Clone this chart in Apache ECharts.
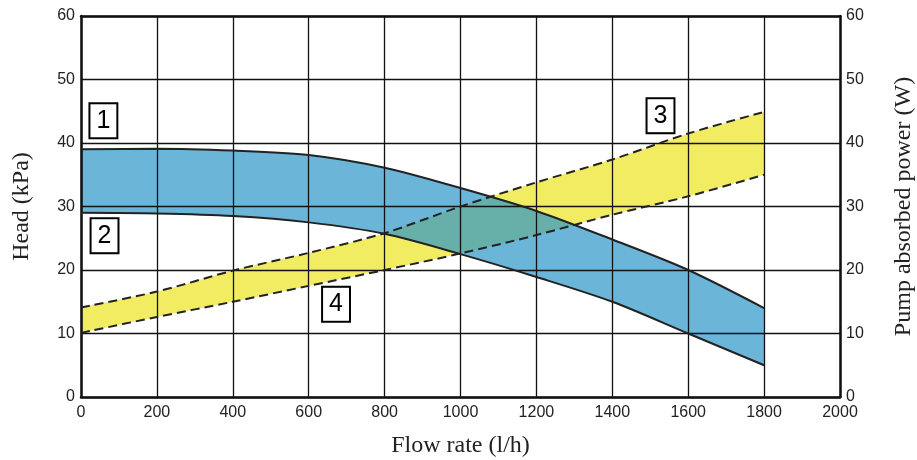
<!DOCTYPE html>
<html><head><meta charset="utf-8">
<script src="https://cdn.jsdelivr.net/npm/echarts@6/dist/echarts.min.js"></script>
<style>html,body{margin:0;padding:0;background:#fff}#c{width:917px;height:460px}</style>
</head><body><div id="c"></div>
<script>
// Data
const flow = [0, 200, 400, 600, 800, 1000, 1200, 1400, 1600, 1800];
const headMax = [39.0, 39.1, 38.8, 38.1, 36.1, 32.9, 29.3, 24.8, 20.0, 14.0];
const headMin = [29.0, 28.9, 28.5, 27.5, 25.7, 22.5, 18.9, 15.0, 10.0, 5.0];
const powerMax = [14.1, 16.6, 19.9, 22.7, 25.8, 30.0, 33.8, 37.4, 41.5, 44.9];
const powerMin = [10.1, 12.6, 15.0, 17.5, 20.0, 22.6, 25.5, 28.7, 31.6, 35.0];
const xTicks = [0, 200, 400, 600, 800, 1000, 1200, 1400, 1600, 1800, 2000];
const yTicks = [0, 10, 20, 30, 40, 50, 60];
const tagNames = ['1', '2', '3', '4'];
const tagFlow = [59, 62, 1527, 672];
const tagValue = [43.5, 25.4, 44.3, 14.6];

const pairs = (ys) => flow.map((x, i) => [String(x), ys[i]]);
const diffs = (hi, lo) => flow.map((x, i) => [String(x), +(hi[i] - lo[i]).toFixed(3)]);

const tickFont = "'Liberation Sans', Arial, sans-serif";
const titleFont = "'Liberation Serif', 'DejaVu Serif', serif";
const SM = 0.3;
const yMin = yTicks[0], yMax = yTicks[yTicks.length - 1];

const chart = echarts.init(document.getElementById('c'));
chart.setOption({
  animation: false,
  backgroundColor: '#fff',
  grid: { left: 81, right: 77, top: 16, bottom: 63, containLabel: false, outerBoundsMode: 'none' },
  xAxis: [{
    type: 'category', data: xTicks.map(String), boundaryGap: false,
    z: 5,
    name: 'Flow rate (l/h)', nameLocation: 'middle', nameGap: 37,
    nameTextStyle: { fontFamily: titleFont, fontSize: 24, color: '#222' },
    axisLine: { show: true, lineStyle: { color: '#111', width: 2.5 } },
    axisTick: { show: false },
    axisLabel: { interval: 0, fontFamily: tickFont, fontSize: 16, color: '#222', margin: 8 },
    splitLine: { show: true, interval: 0, lineStyle: { color: '#111', width: 1.3 } }
  }, {
    type: 'value', position: 'top', min: xTicks[0], max: xTicks[xTicks.length - 1], interval: 200, z: 5,
    axisLine: { show: true, onZero: false, lineStyle: { color: '#111', width: 2.5 } },
    axisTick: { show: false }, axisLabel: { show: false }, splitLine: { show: false }
  }],
  yAxis: [{
    type: 'value', min: yMin, max: yMax, interval: 10, position: 'left', z: 5,
    name: 'Head (kPa)', nameLocation: 'middle', nameGap: 47, nameRotate: 90,
    nameTextStyle: { fontFamily: titleFont, fontSize: 24, color: '#222' },
    axisLine: { show: true, lineStyle: { color: '#111', width: 2.5 } },
    axisTick: { show: false },
    axisLabel: { fontFamily: tickFont, fontSize: 16, color: '#222', margin: 6 },
    splitLine: { show: true, lineStyle: { color: '#111', width: 1.3 } }
  }, {
    type: 'value', min: yMin, max: yMax, interval: 10, position: 'right', z: 5,
    name: 'Pump absorbed power (W)', nameLocation: 'middle', nameGap: 52, nameRotate: 90,
    nameTextStyle: { fontFamily: titleFont, fontSize: 24, color: '#222' },
    axisLine: { show: true, lineStyle: { color: '#111', width: 2.5 } },
    axisTick: { show: false },
    axisLabel: { fontFamily: tickFont, fontSize: 16, color: '#222', margin: 6 },
    splitLine: { show: false }
  }],
  series: [
    // yellow band (power)
    { type: 'line', yAxisIndex: 1, stack: 'p', data: pairs(powerMin), smooth: SM, symbol: 'none',
      lineStyle: { width: 0, opacity: 0 }, z: 1, silent: true },
    { type: 'line', yAxisIndex: 1, stack: 'p', data: diffs(powerMax, powerMin), smooth: SM, symbol: 'none',
      lineStyle: { width: 0, opacity: 0 }, areaStyle: { color: '#f2ec63', opacity: 1 }, z: 1, silent: true },
    // blue band (head)
    { type: 'line', stack: 'h', data: pairs(headMin), smooth: SM, symbol: 'none',
      lineStyle: { width: 0, opacity: 0 }, z: 1, silent: true },
    { type: 'line', stack: 'h', data: diffs(headMax, headMin), smooth: SM, symbol: 'none',
      lineStyle: { width: 0, opacity: 0 }, areaStyle: { color: 'rgb(44,150,200)', opacity: 0.7 }, z: 1, silent: true },
    // boundary lines
    { type: 'line', data: pairs(headMax), smooth: SM, symbol: 'none', z: 10,
      lineStyle: { color: '#222', width: 2 } },
    { type: 'line', data: pairs(headMin), smooth: SM, symbol: 'none', z: 10,
      lineStyle: { color: '#222', width: 2 } },
    { type: 'line', yAxisIndex: 1, data: pairs(powerMax), smooth: SM, symbol: 'none', z: 10,
      lineStyle: { color: '#222', width: 2, type: [9, 5] } },
    { type: 'line', yAxisIndex: 1, data: pairs(powerMin), smooth: SM, symbol: 'none', z: 10,
      lineStyle: { color: '#222', width: 2, type: [9, 5] } },
    // tags
    { type: 'scatter', xAxisIndex: 1, symbol: 'rect', symbolSize: 1, z: 20, zlevel: 1,
      itemStyle: { color: '#fff', opacity: 1 },
      data: tagNames.map((n, i) => ({ value: [tagFlow[i], tagValue[i]], name: n })),
      label: { show: true, position: 'inside', formatter: p => p.name, opacity: 1,
        fontFamily: tickFont, fontSize: 25, color: '#000', backgroundColor: '#fff',
        borderColor: '#000', borderWidth: 2, padding: [3, 6, 2, 6], lineHeight: 28 } }
  ]
});
</script></body></html>
